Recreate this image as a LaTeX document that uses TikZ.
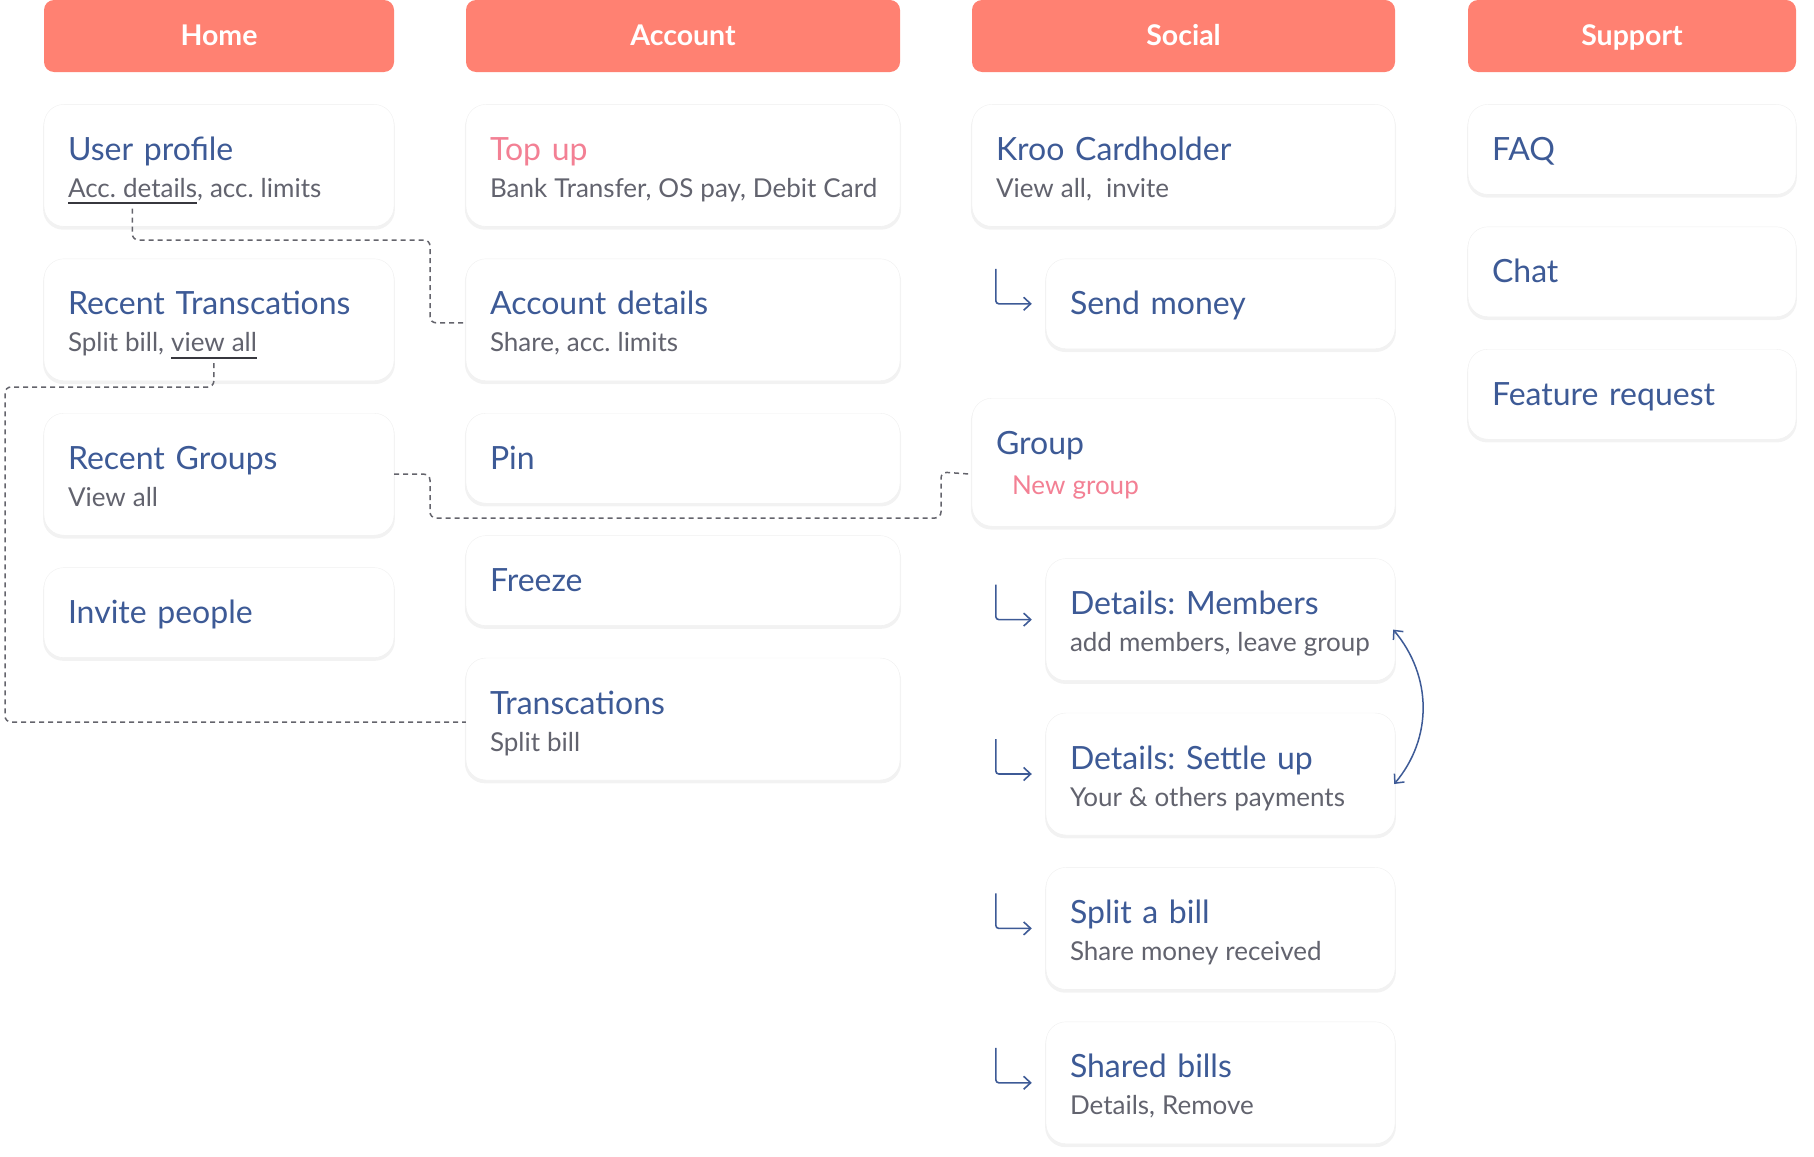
\documentclass[tikz,border=0pt]{standalone}
\usepackage{fontspec}
\setmainfont{Lato}
\usetikzlibrary{positioning, shadows, arrows.meta}

\definecolor{salmon}{RGB}{255,129,114}
\definecolor{navy}{RGB}{61,90,150}
\definecolor{slate}{RGB}{98,99,110}
\definecolor{rose}{RGB}{243,128,148}
\definecolor{ink}{RGB}{55,55,62}
\definecolor{wire}{RGB}{100,100,108}

\newcommand\ttlfont{\fontsize{32pt}{37pt}\selectfont}
\newcommand\subfont{\fontsize{26pt}{37pt}\selectfont\spaceskip=0.27em\xspaceskip=0.27em\relax}
\newcommand\oneline[1]{\mbox{\rule[-14pt]{0pt}{50pt}#1}}
\newcommand\twoline[2]{\mbox{\rule{0pt}{36pt}#1}\\\mbox{\subfont\color{slate}\rule[-9pt]{0pt}{9pt}#2}}
\newcommand\linkword[1]{\setbox0\hbox{#1}\rlap{\color{ink}\rule[-7pt]{\wd0}{2pt}}\box0}
\newlength\accw
\newlength\splitw
\newlength\vieww

\tikzstyle{head}=[fill=salmon, rounded corners=10pt, text=white, font=\fontsize{28.5pt}{30pt}\selectfont\bfseries,
  minimum height=72pt, text height=20pt, text depth=0pt, inner sep=0pt]
\tikzstyle{card}=[fill=white, draw=black!6, rounded corners=20pt, inner xsep=24pt, inner ysep=0pt,
  align=left, text=navy, font=\ttlfont,
  drop shadow={shadow xshift=0pt, shadow yshift=-3pt, shadow scale=1.005, opacity=0.10}]
\tikzstyle{tall}=[card, minimum height=122pt]
\tikzstyle{short}=[card, minimum height=90pt]
\tikzstyle{link}=[draw=wire, dash pattern=on 5pt off 4pt, line width=1.5pt, rounded corners=6pt]
\tikzstyle{hook}=[draw=navy, line width=1.6pt, rounded corners=3pt, ->]

\begin{document}
\frenchspacing
\settowidth\accw{\subfont Acc. details}%
\settowidth\splitw{\subfont Split bill, }%
\settowidth\vieww{\subfont view all}%
\begin{tikzpicture}[x=1pt, y=1pt, node distance=32pt, >={Straight Barb[length=7pt,width=13pt]}]
  \useasboundingbox (0,0) rectangle (1814,-1156);
  % column heads
  \node [head, minimum width=350pt] (home) at (219,-36) {Home};
  \node [head, minimum width=434pt] (acc) at (683,-36) {Account};
  \node [head, minimum width=423pt] (soc) at (1183.5,-36) {Social};
  \node [head, minimum width=328pt] (sup) at (1632,-36) {Support};
  % home
  \node [tall, text width=302pt, below=of home] (upro) {\twoline{User profile}{\linkword{Acc. details}, acc. limits}};
  \node [tall, text width=302pt, below=of upro] (rtx) {\twoline{Recent Transcations}{Split bill, \linkword{view all}}};
  \node [tall, text width=302pt, below=of rtx] (rgrp) {\twoline{Recent Groups}{View all}};
  \node [short, text width=302pt, below=of rgrp] (inv) {\oneline{Invite people}};
  % account
  \node [tall, text width=386pt, below=of acc] (topup) {\twoline{{\color{rose}Top up}}{Bank Transfer, OS pay, Debit Card}};
  \node [tall, text width=386pt, below=of topup] (accd) {\twoline{Account details}{Share, acc. limits}};
  \node [short, text width=386pt, below=of accd] (pin) {\oneline{Pin}};
  \node [short, text width=386pt, below=of pin] (frz) {\oneline{Freeze}};
  \node [tall, text width=386pt, below=of frz] (trx) {\twoline{Transcations}{Split bill}};
  % social
  \node [tall, text width=375pt, below=of soc] (kroo) {\twoline{Kroo Cardholder}{View all, \ invite}};
  \node [short, text width=301pt, anchor=north east] (send) at ([yshift=-32]kroo.south east) {\oneline{Send money}};
  \node [card, minimum height=128pt, text width=375pt, anchor=north east] (grp) at ([yshift=-49]send.south east)
    {\mbox{\rule{0pt}{36pt}Group}\\[3pt]\mbox{\subfont\color{rose}\hspace*{16pt}\rule[-12pt]{0pt}{12pt}New group}};
  \node [tall, text width=301pt, anchor=north east] (memb) at ([yshift=-32]grp.south east) {\twoline{Details: Members}{add members, leave group}};
  \node [tall, text width=301pt, below=of memb] (settle) {\twoline{Details: Settle up}{Your \& others payments}};
  \node [tall, text width=301pt, below=of settle] (split) {\twoline{Split a bill}{Share money received}};
  \node [tall, text width=301pt, below=of split] (shared) {\twoline{Shared bills}{Details, Remove}};
  % support
  \node [short, text width=280pt, below=of sup] (faq) {\oneline{FAQ}};
  \node [short, text width=280pt, below=of faq] (chat) {\oneline{Chat}};
  \node [short, text width=280pt, below=of chat] (feat) {\oneline{Feature request}};
  % links from underlined words
  \coordinate (accu) at ([shift={(24pt+0.5\accw,18pt)}]upro.south west);
  \coordinate (viewu) at ([shift={(24pt+\splitw+0.5\vieww,18pt)}]rtx.south west);
  \draw [link] (accu) |- (430,-240) |- ([yshift=-3]accd.west);
  \draw [link] (viewu) |- (5,-387) |- ([yshift=-3]trx.west);
  \draw [link] (rgrp.east) -| (430,-518) -| (941,-472) -- ([yshift=-12]grp.west);
  % social sub pages
  \foreach \n in {send,memb,settle,split,shared}
    \draw [hook] ([shift={(-50,35)}]\n.west) |- ([xshift=-14]\n.west);
  \draw [navy, line width=1.5pt, <->] ([shift={(-2,-10)}]memb.east) to[out=-50, in=50] ([shift={(-1,-10)}]settle.east);
\end{tikzpicture}
\end{document}
